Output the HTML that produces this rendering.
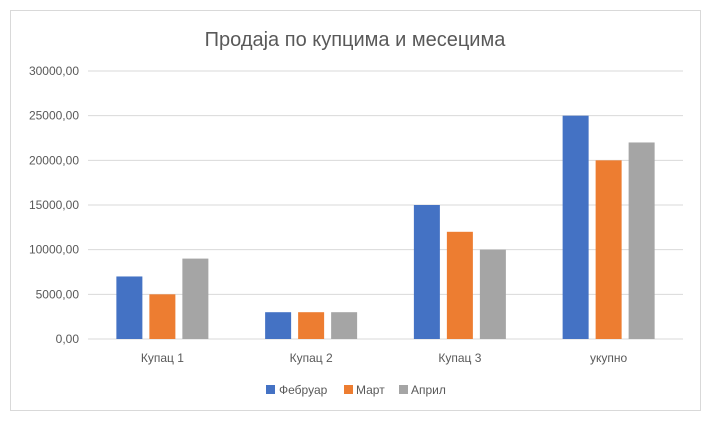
<!DOCTYPE html>
<html><head><meta charset="utf-8"><style>
body{margin:0;background:#fff;font-family:"Liberation Sans","DejaVu Sans",sans-serif;}
svg text{font-family:"Liberation Sans","DejaVu Sans",sans-serif;}
</style></head><body>
<svg id="chart" width="719" height="422">
<rect x="10.5" y="10.5" width="690" height="400" fill="#fff" stroke="#d9d9d9"/>
<text x="355" y="46" text-anchor="middle" font-size="20" fill="#595959">Продаја по купцима и месецима</text>
<g id="grid"></g><g id="bars"></g><g id="xl"></g>
<g>
<rect x="266" y="385" width="9" height="9" fill="#4472c4"/>
<text x="279" y="394" font-size="12" fill="#595959">Фебруар</text>
<rect x="344" y="385" width="9" height="9" fill="#ed7d31"/>
<text x="356" y="394" font-size="12" fill="#595959">Март</text>
<rect x="399" y="385" width="9" height="9" fill="#a5a5a5"/>
<text x="411" y="394" font-size="12" fill="#595959">Април</text>
</g>
</svg>
<script>
const categories=["Купац 1","Купац 2","Купац 3","укупно"];
const februar=[7000,3000,15000,25000];
const mart=[5000,3000,12000,20000];
const april=[9000,3000,10000,22000];
const ticks=[0,5000,10000,15000,20000,25000,30000];
const tickLabels=["0,00","5000,00","10000,00","15000,00","20000,00","25000,00","30000,00"];
const NS="http://www.w3.org/2000/svg";
const x0=88,x1=683,y0=339,y1=71,ymax=30000;
const y=v=>y0-(v/ymax)*(y0-y1);
const gw=(x1-x0)/categories.length;
function mk(t,a,p){const e=document.createElementNS(NS,t);for(const k in a)e.setAttribute(k,a[k]);p.appendChild(e);return e;}
const grid=document.getElementById('grid');
ticks.forEach((t,i)=>{
const l=mk('line',{x1:x0,x2:x1,y1:y(t),y2:y(t),stroke:'#d9d9d9'},grid);


const tx=mk('text',{x:79,y:y(t)+4,'text-anchor':'end','font-size':12,fill:'#595959'},grid);
tx.textContent=tickLabels[i];


});
const series=[[februar,'#4472c4','februar'],[mart,'#ed7d31','mart'],[april,'#a5a5a5','april']];
const bw=26,gap=7;
const bars=document.getElementById('bars'),xl=document.getElementById('xl');
categories.forEach((c,i)=>{
const cx=x0+gw*(i+0.5);
series.forEach((s,j)=>{
const bx=cx-bw*1.5-gap+j*(bw+gap);
const r=mk('rect',{x:bx,y:y(s[0][i]),width:bw,height:y0-y(s[0][i]),fill:s[1]},bars);


});
const t=mk('text',{x:cx,y:362,'text-anchor':'middle','font-size':12,fill:'#595959'},xl);
t.textContent=c;


});
</script>
</body></html>
